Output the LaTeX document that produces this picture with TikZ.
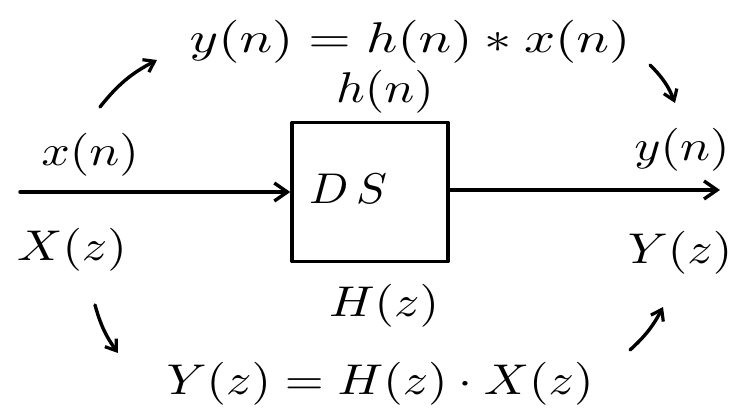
\documentclass[tikz,border=0pt]{standalone}
\usepackage{graphicx}
\usetikzlibrary{arrows.meta}
\tikzset{
  hand/.style={line width=3.4pt, line cap=round, line join=round},
  lbl/.style={inner sep=0pt},
  arr/.style={hand, -{Straight Barb[length=13pt,width=18pt,line width=3.4pt]}},
  sarr/.style={hand, -{Straight Barb[length=10pt,width=14pt,line width=3.2pt]}}
}
\newcommand{\wide}[2][5.0]{\scalebox{#1}[4.3]{#2}}
\begin{document}
\begin{tikzpicture}[x=1pt,y=-1pt]
\useasboundingbox (0,0) rectangle (750,418);
% system box
\node[hand, draw, minimum width=156pt, minimum height=139pt, inner sep=0pt] (ds) at (370,192) {};
\node[lbl] (dstxt) at (348,189) {\wide[4.6]{$D\,S$}};
% signals
\coordinate (in) at (20,192);
\coordinate (out) at (720,190);
\draw[arr] (in) -- (ds.west |- in);
\draw[arr] (ds.east |- out) -- (out);
% labels
\node[lbl] (eqtop) at (410,42) {\wide[5.45]{$y(n) = h(n) * x(n)$}};
\node[lbl] (hn) at (385,92) {\wide{$h(n)$}};
\node[lbl] (xn) at (90,155) {\wide{$x(n)$}};
\node[lbl] (Xz) at (72,250) {\wide{$X(z)$}};
\node[lbl] (yn) at (682,150) {\wide{$y(n)$}};
\node[lbl] (Yz) at (680,253) {\wide{$Y(z)$}};
\node[lbl] (Hz) at (384,306) {\wide{$H(z)$}};
\node[lbl] (eqbot) at (380,384) {\wide{$Y(z) = H(z)\cdot X(z)$}};
% small flow arrows
\coordinate (a1s) at (100,107);
\coordinate (a1e) at (157,60);
\coordinate (a2s) at (650,65);
\coordinate (a2e) at (675,103);
\coordinate (a3s) at (95,305);
\coordinate (a3e) at (118,353);
\coordinate (a4s) at (630,350);
\coordinate (a4e) at (663,307);
\draw[sarr] (a1s) to[bend left=12] (a1e);
\draw[sarr] (a2s) to[bend left=12] (a2e);
\draw[sarr] (a3s) to[bend right=10] (a3e);
\draw[sarr] (a4s) to[bend right=10] (a4e);
\end{tikzpicture}
\end{document}
